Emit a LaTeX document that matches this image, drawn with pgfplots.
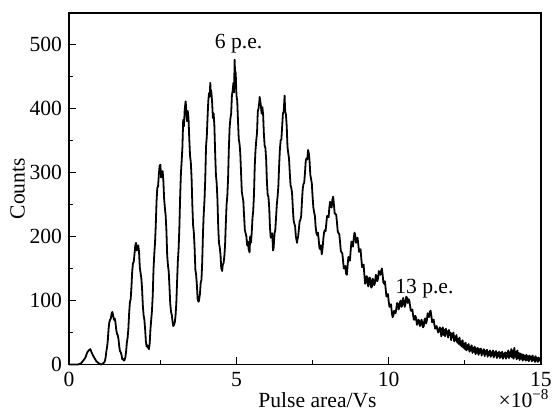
\documentclass[border=0pt]{standalone}
\usepackage{fontspec}
\setmainfont{Liberation Serif}
\usepackage{pgfplots}
\pgfplotsset{compat=1.18}
\begin{document}
\begin{tikzpicture}[font=\fontsize{10.8}{13}\selectfont]
\useasboundingbox (-34.5pt,-22.75pt) rectangle (242.5pt,182.25pt);
\begin{axis}[
  at={(0,0)}, anchor=south west,
  scale only axis, width=236pt, height=175.75pt,
  xmin=-0.5, xmax=15, ymin=0, ymax=549,
  xtick={-0.5,5,10,15}, xticklabels={0,5,10,15},
  minor xtick={2.5,7.5,12.5},
  ytick={0,100,200,300,400,500},
  minor ytick={50,150,250,350,450},
  xtick pos=bottom, ytick pos=left,
  tick align=inside,
  major tick length=3.5pt, minor tick length=2pt,
  axis line style={line width=0.75pt},
  every tick/.style={black, line width=0.6pt},
  /pgf/number format/assume math mode=true,
  xticklabel style={yshift=-0.4pt},
  xlabel={Pulse area/Vs},
  xlabel style={at={(axis description cs:0.5265,-0.1215)}, anchor=base},
  ylabel={Counts},
  ylabel style={at={(axis description cs:-0.109,0.5)}, anchor=center},
  clip=false,
]
\addplot[black, line width=0.9pt, line join=round] coordinates {
(-0.5,0) (-0.3,0) (-0.2,0) (-0.15,1) (-0.10,2) (-0.05,5) (0.00,8) (0.05,12) (0.10,19) (0.15,22) (0.20,24) (0.25,18) (0.30,13) (0.35,9) (0.40,5) (0.45,3) (0.50,1) (0.55,0) (0.60,1) (0.625,2) (0.65,3) (0.675,5) (0.70,10) (0.725,20) (0.75,27) (0.775,38) (0.80,56) (0.825,66) (0.85,70) (0.875,72) (0.90,80) (0.925,82) (0.95,76) (0.975,70) (1.00,72) (1.025,66) (1.05,55) (1.075,48) (1.10,46) (1.125,40) (1.15,28) (1.175,21) (1.20,19) (1.225,15) (1.25,8) (1.275,9) (1.30,6) (1.325,7) (1.35,11) (1.375,20) (1.40,34) (1.425,42) (1.45,56) (1.475,80) (1.50,97) (1.525,102) (1.55,120) (1.575,145) (1.60,158) (1.625,160) (1.65,172) (1.675,185) (1.70,190) (1.725,178) (1.75,182) (1.775,186) (1.80,176) (1.825,152) (1.85,143) (1.875,135) (1.90,118) (1.925,92) (1.95,77) (1.975,70) (2.00,55) (2.025,36) (2.05,28) (2.075,30) (2.10,26) (2.125,24) (2.15,33) (2.175,55) (2.20,70) (2.225,84) (2.25,108) (2.275,148) (2.30,172) (2.325,190) (2.35,218) (2.375,255) (2.40,276) (2.425,278) (2.45,296) (2.475,310) (2.50,312) (2.525,292) (2.55,300) (2.575,302) (2.60,286) (2.625,258) (2.65,244) (2.675,232) (2.70,208) (2.725,170) (2.75,155) (2.775,145) (2.80,121) (2.825,95) (2.85,82) (2.875,78) (2.90,67) (2.925,60) (2.95,62) (2.975,66) (3.00,77) (3.025,96) (3.05,130) (3.075,162) (3.10,181) (3.125,214) (3.15,262) (3.175,298) (3.20,318) (3.225,340) (3.25,382) (3.275,372) (3.30,398) (3.33,411) (3.35,400) (3.375,380) (3.40,396) (3.425,385) (3.45,352) (3.475,326) (3.50,316) (3.525,292) (3.55,250) (3.575,218) (3.60,206) (3.625,182) (3.65,148) (3.675,140) (3.70,124) (3.725,102) (3.75,98) (3.77,100) (3.80,110) (3.825,128) (3.85,132) (3.875,160) (3.90,205) (3.925,236) (3.95,257) (3.975,290) (4.00,340) (4.025,356) (4.05,386) (4.075,412) (4.10,424) (4.12,418) (4.14,440) (4.15,430) (4.175,425) (4.20,410) (4.225,385) (4.25,392) (4.275,372) (4.30,330) (4.325,296) (4.35,283) (4.375,258) (4.40,216) (4.425,190) (4.45,183) (4.475,172) (4.50,150) (4.53,146) (4.55,156) (4.575,158) (4.60,168) (4.625,186) (4.65,220) (4.675,250) (4.70,264) (4.725,292) (4.75,338) (4.775,370) (4.80,384) (4.825,392) (4.85,420) (4.875,428) (4.90,440) (4.92,425) (4.94,476) (4.95,460) (4.975,455) (5.00,420) (5.025,412) (5.05,380) (5.075,352) (5.10,345) (5.125,330) (5.15,300) (5.175,270) (5.20,262) (5.225,255) (5.25,232) (5.275,210) (5.30,205) (5.325,200) (5.35,186) (5.375,192) (5.40,180) (5.43,175) (5.45,200) (5.475,190) (5.50,205) (5.525,228) (5.55,240) (5.575,266) (5.60,310) (5.625,335) (5.65,350) (5.675,362) (5.70,395) (5.725,400) (5.75,410) (5.76,418) (5.80,405) (5.825,392) (5.85,402) (5.875,390) (5.90,360) (5.925,342) (5.95,338) (5.975,320) (6.00,285) (6.025,265) (6.05,262) (6.075,245) (6.10,214) (6.125,198) (6.15,200) (6.175,205) (6.20,178) (6.22,182) (6.25,205) (6.275,210) (6.30,230) (6.325,250) (6.35,262) (6.375,278) (6.40,310) (6.425,335) (6.45,350) (6.475,352) (6.50,372) (6.525,392) (6.55,395) (6.58,420) (6.60,395) (6.625,390) (6.65,372) (6.675,340) (6.70,330) (6.725,322) (6.75,300) (6.775,280) (6.80,276) (6.825,268) (6.85,245) (6.875,226) (6.90,220) (6.925,216) (6.95,200) (6.99,190) (7.00,195) (7.025,200) (7.05,212) (7.075,224) (7.10,226) (7.125,232) (7.15,255) (7.175,274) (7.20,282) (7.225,284) (7.25,300) (7.275,318) (7.30,322) (7.325,320) (7.35,335) (7.375,330) (7.40,318) (7.425,296) (7.45,290) (7.475,282) (7.50,262) (7.525,245) (7.55,238) (7.575,232) (7.60,215) (7.625,205) (7.65,202) (7.675,206) (7.70,195) (7.725,182) (7.75,180) (7.775,186) (7.80,172) (7.825,180) (7.85,195) (7.875,206) (7.90,210) (7.925,208) (7.95,220) (7.975,232) (8.00,232) (8.025,230) (8.05,245) (8.075,254) (8.10,252) (8.125,245) (8.15,258) (8.175,262) (8.20,250) (8.225,236) (8.25,235) (8.275,234) (8.30,222) (8.325,208) (8.35,205) (8.375,204) (8.40,192) (8.425,178) (8.45,175) (8.475,174) (8.50,162) (8.525,150) (8.55,150) (8.575,154) (8.60,142) (8.625,140) (8.65,155) (8.675,168) (8.70,165) (8.725,162) (8.75,178) (8.775,192) (8.80,190) (8.825,184) (8.85,196) (8.875,206) (8.90,202) (8.925,190) (8.95,195) (8.975,198) (9.00,188) (9.025,176) (9.05,178) (9.075,180) (9.10,165) (9.125,152) (9.15,155) (9.175,156) (9.20,140) (9.225,126) (9.25,128) (9.275,138) (9.30,135) (9.325,122) (9.35,125) (9.375,136) (9.40,132) (9.425,120) (9.45,122) (9.475,134) (9.50,130) (9.525,124) (9.55,128) (9.575,140) (9.60,138) (9.625,130) (9.65,135) (9.675,146) (9.70,142) (9.725,140) (9.75,146) (9.775,150) (9.80,140) (9.825,128) (9.85,126) (9.875,130) (9.90,118) (9.925,106) (9.95,108) (9.975,110) (10.00,98) (10.025,90) (10.05,92) (10.075,94) (10.10,82) (10.125,74) (10.15,76) (10.175,84) (10.20,80) (10.225,80) (10.25,88) (10.275,96) (10.30,95) (10.325,86) (10.35,90) (10.375,98) (10.40,100) (10.425,90) (10.45,94) (10.475,104) (10.50,98) (10.525,90) (10.55,95) (10.575,106) (10.60,104) (10.625,96) (10.65,102) (10.675,100) (10.70,92) (10.725,84) (10.75,84) (10.775,86) (10.80,77) (10.825,70) (10.85,70) (10.875,76) (10.90,72) (10.925,62) (10.95,64) (10.975,70) (11.00,68) (11.025,60) (11.05,62) (11.075,70) (11.10,66) (11.125,58) (11.15,60) (11.175,70) (11.20,72) (11.225,64) (11.25,68) (11.275,80) (11.30,78) (11.325,74) (11.35,82) (11.375,84) (11.40,76) (11.425,66) (11.45,68) (11.475,70) (11.50,62) (11.525,56) (11.55,58) (11.575,60) (11.60,54) (11.625,50) (11.65,52) (11.675,58)
(11.70,56) (11.725,44) (11.75,50) (11.775,58) (11.80,46) (11.825,54) (11.85,44) (11.875,56) (11.90,48) (11.925,52) (11.95,42) (11.975,54) (12.00,46) (12.025,50) (12.05,38) (12.075,48) (12.10,42) (12.125,50) (12.15,36) (12.175,44) (12.20,38) (12.225,46) (12.25,34) (12.275,40) (12.30,32) (12.325,42) (12.35,30) (12.375,36) (12.40,28) (12.425,38) (12.45,26) (12.475,33) (12.50,24) (12.525,34) (12.55,22) (12.575,30) (12.60,24) (12.625,32) (12.65,20) (12.675,28) (12.70,22) (12.725,30) (12.75,18) (12.775,26) (12.80,20) (12.825,28) (12.85,16) (12.875,25) (12.90,18) (12.925,26) (12.95,15) (12.975,24) (13.00,18) (13.025,25) (13.05,14) (13.075,22) (13.10,17) (13.125,24) (13.15,13) (13.175,21) (13.20,16) (13.225,23) (13.25,12) (13.275,20) (13.30,15) (13.325,22) (13.35,12) (13.375,19) (13.40,14) (13.425,22) (13.45,11) (13.475,19) (13.50,14) (13.525,21) (13.55,10) (13.575,18) (13.60,13) (13.625,20) (13.65,10) (13.675,18) (13.70,12) (13.725,20) (13.75,9) (13.775,17) (13.80,12) (13.825,19) (13.85,9) (13.875,18) (13.90,12) (13.925,22) (13.95,10) (13.975,19) (14.00,13) (14.025,24) (14.05,11) (14.075,22) (14.10,9) (14.125,26) (14.15,12) (14.175,20) (14.20,8) (14.225,22) (14.25,10) (14.275,18) (14.30,7) (14.325,17) (14.35,9) (14.375,16) (14.40,6) (14.425,15) (14.45,8) (14.475,14) (14.50,6) (14.525,15) (14.55,7) (14.575,13) (14.60,5) (14.625,14) (14.65,8) (14.675,12) (14.70,5) (14.725,14) (14.75,7) (14.775,11) (14.80,4) (14.825,13) (14.85,6) (14.875,10) (14.90,4) (14.925,11) (14.95,6) (14.975,9) (15.00,5)
};
\node[anchor=base] at (axis cs:5.07,494) {6 p.e.};
\node[anchor=base] at (axis cs:11.17,111) {13 p.e.};
\node[anchor=base east, inner sep=0pt] at (axis description cs:1.019,-0.1215) {×10\textsuperscript{\char"2212 8}};
\end{axis}
\end{tikzpicture}
\end{document}
